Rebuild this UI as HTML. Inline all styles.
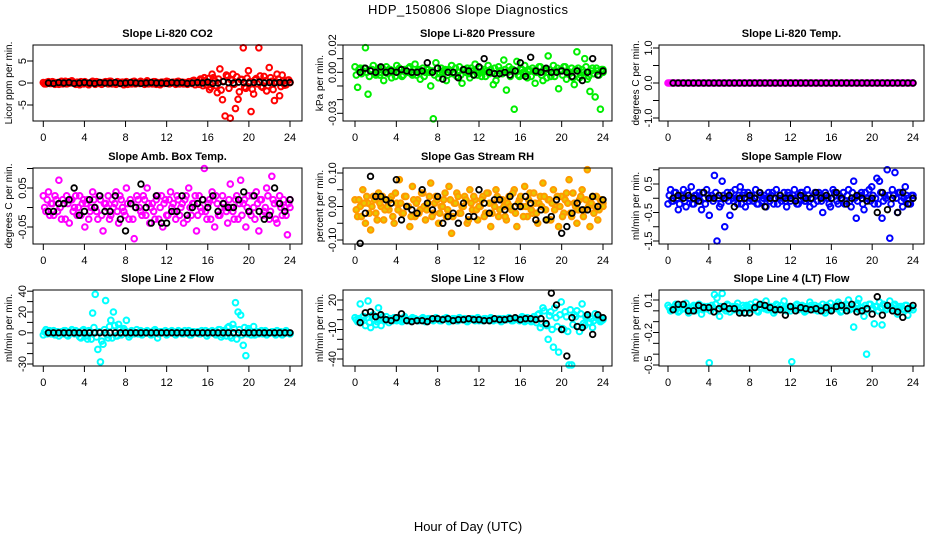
<!DOCTYPE html>
<html><head><meta charset="utf-8"><style>
body{margin:0;background:#fff;}
svg{display:block;font-family:"Liberation Sans",sans-serif;}
</style></head><body>
<svg id="chart" width="936" height="540" viewBox="0 0 936 540">
<text x="468" y="14" text-anchor="middle" font-size="13" textLength="200">HDP_150806  Slope Diagnostics</text>
<text x="468" y="531" text-anchor="middle" font-size="13">Hour of Day (UTC)</text>
</svg>
<script>
// ---- data ----
const xTicks=[0,4,8,12,16,20,24];
const xTickLabels=["0","4","8","12","16","20","24"];
const c1=[0.1,-0.2,0.3,-0.1,0.2,0.0,-0.3,0.4,0.1,-0.2,0.3,0.5,-0.1,0.2,-0.4,0.1,0.3,-0.2,0.0,0.4,-0.3,0.2,0.1,-0.1,0.3,-0.2,0.4,0.0,-0.3,0.2,0.1,-0.4,0.3,0.0,-0.2,0.4,0.1,-0.1,0.2,-0.3,0.5,0.0,-0.2,0.3,0.1,-0.4,0.2,0.0,0.3,-0.1,0.2,-0.3,0.4,0.1,-0.2,0.0,0.3,-0.1,0.6,0.2,-0.3,0.8,1.2,-0.5,-1.5,2.0,0.5,-2.2,3.2,-3.8,-7.5,1.5,-8.0,2.0,-5.8,-3.7,0.8,8.0,-1.2,2.8,-6.5,-2.5,1.0,8.0,-0.8,1.5,-1.8,3.5,0.4,-4.0,2.0,-2.9,1.8,-0.5,0.6,0.2];
const d1=[-0.2,0.2,-0.1,0.3,-0.3,0.1,0.2,-0.2,0.4,-0.1,0.0,0.2,-0.3,0.1,0.3,-0.2,0.1,-0.4,0.2,0.0,0.3,-0.1,-0.3,0.2,0.1,0.4,-0.2,0.0,0.3,-0.1,0.2,0.0,-0.3,0.1,0.3,-0.2,0.0,0.4,-0.1,0.2,-0.2,0.1,0.3,-0.3,0.0,0.2,-0.1,0.4,-0.2,0.1,0.0,0.3,-0.2,0.2,0.1,-0.3,0.2,0.5,-0.4,0.3,0.9,-0.6,0.2,1.0,-1.0,1.2,-0.6,0.9,-1.6,0.4,1.8,-1.2,0.6,-0.3,1.4,-2.0,0.8,-0.9,1.1,0.3,-1.4,0.7,-0.2,1.6,-1.0,0.5,-0.6,1.2,-1.5,0.3,0.9,-0.8,0.4,-0.4,0.7,0.1];
const b1=[0.0,-0.1,0.1,0.0,0.1,-0.1,0.0,0.1,0.0,-0.1,0.1,0.0,0.0,0.1,-0.1,0.0,0.1,0.0,-0.1,0.0,0.1,0.0,0.0,-0.1,0.1,0.0,0.1,-0.1,0.0,0.1,0.0,0.2,-0.1,0.0,0.3,0.1,0.0,0.2,0.1,0.0,0.1,0.2,0.0,0.1,0.0,0.1,0.0,0.1];
const c2=[0.004,-0.011,0.003,0.001,0.018,-0.016,0.002,0.005,-0.002,0.003,0.000,-0.006,0.004,0.002,-0.004,0.001,0.005,0.003,-0.003,0.002,0.000,0.004,-0.002,0.006,0.001,-0.005,0.003,0.000,0.002,-0.010,-0.034,0.007,-0.004,0.003,0.001,-0.006,0.002,0.005,0.000,-0.003,0.004,-0.008,0.002,0.003,-0.004,0.001,0.006,-0.002,0.003,0.000,-0.003,0.005,0.002,-0.009,-0.006,0.004,0.001,0.009,-0.013,0.004,0.002,-0.027,0.008,-0.003,0.002,0.005,-0.004,0.001,0.003,-0.008,0.000,0.004,-0.006,0.002,0.012,-0.003,0.005,0.001,-0.012,0.002,0.004,-0.005,0.000,0.003,-0.009,0.015,-0.004,0.002,0.010,-0.005,-0.014,0.003,-0.018,0.001,-0.027,0.002];
const d2=[-0.002,0.002,-0.001,0.003,0.000,-0.003,0.002,-0.001,0.001,-0.002,0.003,0.000,-0.001,0.002,0.001,-0.003,0.000,0.002,-0.002,0.001,0.003,-0.001,0.000,-0.002,0.002,0.001,-0.003,0.002,0.000,0.001,-0.002,0.003,-0.001,0.000,0.002,-0.002,0.001,-0.001,0.003,0.000,-0.002,0.002,0.000,-0.001,0.003,-0.002,0.001,0.000,-0.003,0.002,0.001,-0.001,0.000,0.003,-0.002,0.001,-0.001,0.002,0.000,-0.003,0.002,0.001,-0.002,0.003,0.000,-0.001,0.002,-0.003,0.001,0.000,0.004,-0.002,0.001,-0.004,0.002,0.000,-0.003,0.003,0.001,-0.002,0.004,-0.001,0.000,-0.004,0.002,0.003,-0.002,0.000,0.004,-0.003,0.001,-0.001,0.003,-0.002,0.002,0.000];
const b2=[0.000,0.003,0.001,0.000,0.004,0.000,0.001,0.000,0.002,0.001,0.000,0.000,0.001,0.007,0.000,0.003,-0.005,0.000,0.000,-0.004,0.002,0.001,-0.002,0.004,0.010,0.000,-0.001,-0.001,0.000,-0.002,0.001,0.007,-0.003,0.011,0.001,0.000,0.003,0.000,0.000,0.001,0.000,-0.003,0.001,-0.006,0.000,0.010,-0.002,0.001];
const c3=[0,0,0,0,0,0,0,0,0,0,0,0,0,0,0,0,0,0,0,0,0,0,0,0,0,0,0,0,0,0,0,0,0,0,0,0,0,0,0,0,0,0,0,0,0,0,0,0,0,0,0,0,0,0,0,0,0,0,0,0,0,0,0,0,0,0,0,0,0,0,0,0,0,0,0,0,0,0,0,0,0,0,0,0,0,0,0,0,0,0,0,0,0,0,0,0];
const d3=c3.slice();
const b3=[0,0,0,0,0,0,0,0,0,0,0,0,0,0,0,0,0,0,0,0,0,0,0,0,0,0,0,0,0,0,0,0,0,0,0,0,0,0,0,0,0,0,0,0,0,0,0,0];
const c4=[0.03,-0.01,0.04,0.01,-0.02,0.02,0.07,-0.03,0.01,0.03,-0.04,0.02,0.00,-0.02,0.03,0.01,-0.05,0.02,-0.01,0.04,0.00,-0.03,0.02,-0.06,0.01,0.03,-0.02,0.00,0.04,-0.04,0.02,-0.01,0.05,-0.03,0.01,-0.08,0.03,0.00,-0.02,0.02,0.05,-0.04,0.01,-0.03,0.03,0.00,-0.05,0.02,-0.02,0.04,0.01,-0.03,0.02,0.00,-0.04,0.03,0.05,-0.02,0.01,-0.06,0.03,-0.01,0.10,-0.03,0.02,0.04,-0.05,0.01,-0.02,0.03,0.00,-0.04,0.06,-0.01,0.02,-0.03,0.07,0.01,-0.05,0.03,-0.02,0.00,0.04,-0.06,0.02,-0.01,0.05,-0.03,0.08,0.01,-0.04,0.03,-0.02,0.00,-0.07,0.02];
const d4=[0.00,0.02,-0.02,0.01,0.03,-0.01,0.00,0.02,-0.03,0.01,0.02,-0.01,0.03,0.00,-0.02,0.02,0.01,-0.03,0.00,0.02,-0.01,0.03,-0.02,0.01,0.00,-0.03,0.02,0.01,-0.01,0.03,0.00,-0.02,0.01,0.02,-0.03,0.00,0.02,-0.01,0.03,-0.02,0.01,0.00,-0.01,0.02,-0.03,0.03,0.01,-0.02,0.02,0.00,-0.01,0.03,-0.02,0.01,0.02,-0.03,0.00,0.01,0.03,-0.02,0.00,0.02,-0.01,0.01,-0.03,0.02,0.03,-0.02,0.00,0.01,-0.01,0.02,0.00,-0.03,0.03,0.01,-0.02,0.02,0.00,-0.01,0.03,-0.03,0.01,0.02,-0.02,0.00,0.03,-0.01,0.02,-0.03,0.01,0.00,0.02,-0.02,0.01,0.00];
const b4=[-0.01,-0.01,0.01,0.01,0.02,0.05,-0.02,-0.01,0.02,0.00,0.03,-0.01,-0.01,0.03,-0.03,-0.06,0.01,0.00,0.06,0.00,-0.04,0.03,-0.04,-0.04,-0.01,-0.01,0.03,-0.02,0.00,0.01,0.02,0.00,0.03,-0.01,0.01,0.00,0.00,0.02,0.04,-0.01,0.03,-0.01,-0.03,-0.02,0.05,0.01,-0.01,0.02];
const c5=[0.02,-0.03,0.00,0.05,-0.05,0.01,-0.07,0.03,-0.02,0.04,0.00,-0.04,0.02,-0.01,0.03,-0.05,0.01,0.08,-0.02,0.03,0.00,-0.06,0.06,-0.03,0.02,-0.01,0.04,-0.04,0.01,0.07,-0.02,0.03,-0.05,0.00,0.02,-0.03,0.06,-0.08,0.01,0.04,-0.02,0.00,0.03,-0.05,0.05,-0.01,0.02,-0.04,0.00,0.03,-0.02,0.04,-0.06,0.01,0.05,-0.03,0.02,0.00,-0.04,0.03,-0.01,0.05,-0.06,0.02,0.00,0.06,-0.03,0.04,-0.02,0.01,-0.05,0.03,0.07,-0.01,0.02,-0.04,0.05,0.00,-0.06,0.03,-0.02,0.04,0.08,-0.03,0.01,-0.05,0.02,0.05,-0.01,0.11,-0.06,0.03,0.00,-0.04,0.02,0.01];
const d5=[-0.01,0.02,-0.03,0.01,0.03,-0.02,0.00,0.02,-0.04,0.01,0.03,-0.01,0.00,0.02,-0.03,0.04,-0.01,0.01,-0.02,0.03,0.00,-0.03,0.02,0.01,-0.02,0.04,0.00,-0.01,0.03,-0.03,0.01,0.02,-0.02,0.00,0.04,-0.01,0.02,-0.03,0.01,0.03,-0.02,0.00,0.02,-0.04,0.01,0.03,-0.01,0.00,0.02,-0.03,0.04,0.01,-0.02,0.00,0.03,-0.01,0.02,-0.03,0.01,0.00,0.04,-0.02,0.01,0.03,-0.03,0.00,0.02,-0.01,0.04,-0.02,0.01,0.00,0.03,-0.04,0.02,0.01,-0.01,0.03,0.00,-0.03,0.02,0.01,-0.02,0.04,0.00,-0.01,0.03,-0.03,0.02,0.00,0.01,-0.02,0.03,-0.01,0.02,0.00];
const b5=[-0.11,-0.02,0.09,0.03,0.03,0.02,0.01,0.08,-0.04,0.00,-0.01,-0.02,0.05,0.01,-0.01,0.03,-0.05,-0.03,-0.02,-0.05,0.01,-0.03,-0.03,0.05,0.01,-0.02,0.02,0.02,-0.01,0.03,0.00,0.00,0.03,0.01,-0.04,-0.01,-0.04,-0.03,0.02,-0.08,-0.06,-0.02,0.01,-0.01,-0.01,0.03,0.00,0.02];
const c6=[-0.2,0.3,-0.1,0.2,-0.4,0.1,0.3,-0.3,0.0,0.4,-0.2,0.1,0.2,-0.4,0.0,0.3,-0.6,0.1,0.8,-1.5,-0.3,0.6,-1.0,0.2,-0.6,0.0,0.3,-0.2,0.4,0.1,-0.3,0.2,0.0,-0.1,0.3,-0.2,0.1,0.0,-0.3,0.2,0.1,-0.2,0.3,0.0,-0.1,0.2,-0.3,0.1,0.0,0.3,-0.2,0.1,0.2,-0.1,0.3,-0.3,0.0,0.2,-0.1,0.1,-0.5,0.2,0.0,-0.3,0.3,0.1,-0.2,0.0,0.2,-0.1,0.3,-0.3,0.6,-0.7,0.1,0.2,-0.4,0.0,0.3,0.4,-0.2,0.7,0.6,-0.7,0.1,1.0,-1.4,0.3,0.9,-0.5,0.2,-0.3,0.4,0.0,-0.2,0.1];
const d6=[0.1,-0.1,0.2,0.0,-0.2,0.1,-0.1,0.2,0.0,-0.2,0.1,0.0,-0.1,0.2,-0.2,0.1,0.0,-0.1,0.2,0.0,-0.2,0.1,0.0,-0.1,0.2,-0.1,0.0,0.1,-0.2,0.2,0.0,-0.1,0.1,0.0,-0.2,0.2,-0.1,0.1,0.0,-0.1,0.2,0.0,-0.2,0.1,0.0,-0.1,0.2,-0.1,0.1,0.0,-0.2,0.2,0.0,-0.1,0.1,0.0,-0.2,0.1,0.2,-0.1,0.0,0.1,-0.2,0.0,0.2,-0.1,0.1,0.0,-0.2,0.1,-0.1,0.2,0.0,-0.1,0.1,-0.2,0.2,0.0,-0.1,0.1,0.0,-0.2,0.2,-0.1,0.0,0.1,-0.2,0.1,0.0,0.2,-0.1,0.0,0.1,-0.2,0.1,0.0];
const b6=[0.0,0.1,0.0,0.1,0.0,-0.1,0.2,0.0,0.0,0.1,0.0,0.1,-0.3,0.0,0.0,0.1,0.0,0.2,-0.3,0.0,0.0,0.1,0.0,0.0,-0.1,0.1,0.0,0.0,0.2,0.0,0.1,0.0,0.2,0.0,-0.2,0.0,0.1,0.0,-0.1,0.0,-0.5,0.2,-0.4,0.0,-0.5,0.2,-0.2,0.0];
const c7=[-2,3,1,-1,2,0,-3,1,2,-2,0,3,-1,1,-4,2,0,-6,1,19,37,-16,-28,-11,31,-5,12,20,-3,8,-2,4,12,-4,2,-1,3,0,-2,1,2,-1,0,3,-5,1,0,2,-1,1,0,-2,2,1,-1,0,2,-2,1,0,-1,2,0,-3,1,2,-1,0,3,-2,1,5,-3,8,29,20,17,-12,-22,4,-2,6,0,-1,2,1,-2,0,1,-1,2,0,-2,1,0,-1];
const d7=[1,-1,2,0,-2,1,0,-1,2,-3,1,0,2,-1,-5,3,-3,2,-6,5,-4,1,-8,3,-2,6,-5,7,-3,4,-1,2,0,-2,1,0,-1,2,-1,0,1,-2,2,0,-1,1,0,-2,1,2,-1,0,1,-1,2,0,-2,1,0,1,-1,0,2,-1,0,1,-2,3,-4,2,-3,6,-5,4,-6,3,-2,5,-1,2,0,-2,1,0,-1,2,-1,0,1,-2,0,1,-1,2,0,-1];
const b7=[0,0,0,0,0,0,0,0,0,0,0,0,0,0,0,0,0,0,0,0,0,0,0,0,0,0,0,0,0,0,0,0,0,0,0,0,0,0,0,0,0,0,0,0,0,0,0,0];
const c8=[2,-2,16,3,-6,19,-8,5,-5,12,-6,1,3,-3,0,2,-1,1,-2,3,0,-1,2,1,-1,0,2,-2,1,0,-1,2,0,-1,1,2,-2,0,1,-1,2,0,1,-2,0,1,-1,2,0,-1,1,0,2,-1,0,1,-2,1,0,2,-1,0,1,-1,3,-2,2,0,-1,1,5,-8,12,-5,-20,8,-28,2,-33,18,-10,3,-46,-46,5,9,-12,16,-6,3,-3,-8,6,2,-2,0];
const d8=[0,1,-1,3,2,-3,4,0,-2,1,3,-1,0,1,-1,0,2,-1,0,1,-1,0,1,0,-1,1,0,-1,1,0,0,1,-1,0,1,0,-1,1,0,-1,1,0,0,-1,1,0,1,-1,0,1,0,-1,1,0,0,1,-1,0,1,0,-1,1,0,0,2,-1,1,-2,3,-3,6,-4,9,-6,4,-10,12,-7,5,-9,8,-12,10,-5,3,-7,6,-4,2,-3,1,-1,2,0,-1,1];
const b8=[-3,7,8,3,5,0,-1,2,6,-1,-2,-1,-1,-2,1,1,0,1,-1,0,0,1,0,0,-1,-1,1,0,0,1,2,0,1,1,0,1,-4,27,15,-10,-37,2,-7,-8,5,-15,5,2];
const c9=[0.05,0.00,0.03,0.06,-0.01,0.04,0.02,0.07,-0.02,0.03,0.05,0.01,0.06,-0.03,0.04,0.02,-0.48,0.05,0.15,0.12,-0.05,0.16,0.02,0.06,-0.01,0.04,0.03,0.07,0.00,0.05,-0.02,0.04,0.06,0.02,0.08,-0.01,0.03,0.05,0.09,0.01,0.04,-0.02,0.06,0.03,0.05,0.09,0.00,0.04,-0.47,0.03,0.06,0.02,0.05,-0.01,0.04,0.08,0.02,0.05,0.00,0.03,0.06,-0.02,0.04,0.07,0.02,0.05,0.08,-0.01,0.03,0.06,0.10,0.02,-0.15,0.05,0.11,0.03,-0.05,-0.40,0.06,0.02,-0.12,0.04,0.08,-0.13,0.05,0.02,0.09,0.03,0.06,-0.03,0.04,0.02,0.05,-0.04,0.03,0.01];
const d9=[0.03,0.01,0.04,0.02,0.00,0.05,0.02,0.03,0.01,0.04,0.00,0.03,0.05,0.01,0.02,0.04,0.00,0.03,0.06,0.01,0.04,0.02,0.00,0.05,0.03,0.01,0.04,0.02,0.00,0.03,0.05,0.01,0.02,0.04,0.00,0.03,0.06,0.02,0.01,0.04,0.03,0.00,0.05,0.02,0.01,0.04,0.03,0.00,0.02,0.05,0.01,0.03,0.04,0.00,0.02,0.05,0.01,0.03,0.04,0.02,0.00,0.05,0.03,0.01,0.04,0.02,0.06,0.00,0.03,0.05,0.01,0.04,0.02,0.07,0.00,0.03,0.05,0.01,0.06,0.02,0.04,0.00,0.03,0.06,0.01,0.04,0.02,0.05,0.00,0.03,0.04,0.01,0.05,0.02,0.03,0.01];
const b9=[0.01,0.06,0.06,0.00,0.00,0.05,0.03,0.03,-0.01,0.02,0.04,0.02,0.02,-0.02,-0.02,-0.02,0.03,0.06,0.05,0.03,0.01,0.01,-0.04,0.04,0.00,0.03,0.02,0.01,0.02,0.00,0.03,0.00,0.04,0.05,0.00,0.06,-0.01,0.00,0.02,-0.03,0.13,-0.04,0.05,0.00,-0.01,-0.06,0.02,0.05];

// ---- layout ----
const NS="http://www.w3.org/2000/svg";
const svg=document.getElementById('chart');
const cols=[{l:33,r:302,x0:43.3,x24:290,lab:9,tl:22},{l:343,r:612,x0:355,x24:603,lab:320,tl:332},{l:659,r:924,x0:668,x24:913,lab:636,tl:648}];
const rows=[{t:45,b:121,title:37},{t:168,b:244,title:160},{t:290,b:366,title:282}];
const panels=[
 {title:"Slope Li-820 CO2",ylab:"Licor ppm per min.",c:c1,d:d1,b:b1,col:"#ff0000",fill:"none",ref:[5,61,-5,105],ticks:[5,0,-5],tlab:["5","0","-5"]},
 {title:"Slope Li-820 Pressure",ylab:"kPa per min.",c:c2,d:d2,b:b2,col:"#00ee00",fill:"none",ref:[0.02,45,-0.03,113.3],ticks:[0.02,0.01,0,-0.01,-0.02,-0.03],tlab:["0.02","","0.00","","","-0.03"]},
 {title:"Slope Li-820 Temp.",ylab:"degrees C per min.",c:c3,d:d3,b:b3,col:"#ff00ff",fill:"none",ref:[1,48,-1,118],ticks:[1,0.5,0,-0.5,-1],tlab:["1.0","","0.0","","-1.0"]},
 {title:"Slope Amb. Box Temp.",ylab:"degrees C per min.",c:c4,d:d4,b:b4,col:"#ff00ff",fill:"none",ref:[0.05,188,-0.05,227],ticks:[0.1,0.05,0,-0.05],tlab:["","0.05","","-0.05"]},
 {title:"Slope Gas Stream RH",ylab:"percent per min.",c:c5,d:d5,b:b5,col:"#ff9a00",fill:"#e8c800",ref:[0.1,173,-0.1,240],ticks:[0.1,0.05,0,-0.05,-0.1],tlab:["0.10","","0.00","","-0.10"]},
 {title:"Slope Sample Flow",ylab:"ml/min per min.",c:c6,d:d6,b:b6,col:"#0000ff",fill:"none",ref:[0.5,184,-1.5,241],ticks:[1,0.5,0,-0.5,-1,-1.5],tlab:["","0.5","","-0.5","","-1.5"]},
 {title:"Slope Line 2 Flow",ylab:"ml/min per min.",c:c7,d:d7,b:b7,col:"#00ffff",fill:"none",ref:[20,312,-30,364],ticks:[40,30,20,10,0,-10,-20,-30],tlab:["40","","20","","0","","","-30"]},
 {title:"Slope Line 3 Flow",ylab:"ml/min per min.",c:c8,d:d8,b:b8,col:"#00ffff",fill:"none",ref:[20,300,-40,359],ticks:[20,10,0,-10,-20,-30,-40],tlab:["20","","","-10","","","-40"]},
 {title:"Slope Line 4 (LT) Flow",ylab:"ml/min per min.",c:c9,d:d9,b:b9,col:"#00ffff",fill:"none",ref:[0.1,300,-0.5,365],ticks:[0.1,0,-0.1,-0.2,-0.3,-0.4,-0.5],tlab:["0.1","","","-0.2","","","-0.5"]}
];
function mk(tag,attrs,parent){const e=document.createElementNS(NS,tag);for(const k in attrs)e.setAttribute(k,attrs[k]);(parent||svg).appendChild(e);return e;}
panels.forEach((p,i)=>{
 const C=cols[i%3],R=rows[Math.floor(i/3)];
 const g=mk('g',{});
 
 
 const xs=h=>C.x0+(C.x24-C.x0)*h/24;
 const ys=v=>p.ref[1]+(v-p.ref[0])*(p.ref[3]-p.ref[1])/(p.ref[2]-p.ref[0]);
 const t=mk('text',{x:(C.l+C.r)/2,y:R.title,'text-anchor':'middle','font-size':11,'font-weight':'bold'},g);
 t.textContent=p.title;
 
 
 const yl=mk('text',{x:0,y:0,'text-anchor':'middle','font-size':10,transform:`translate(${C.lab+3},${(R.t+R.b)/2}) rotate(-90)`},g);
 yl.textContent=p.ylab;
 
 
 // colored points (two sample sets, offset by half a step)
 [p.c,p.d].forEach((arr,s)=>{
  const n=arr.length;
  arr.forEach((v,k)=>{
   const h=Math.min(24,k*24/(n-1)+s*0.125);
   const pt=mk('circle',{cx:xs(h),cy:ys(v),r:2.8,fill:p.fill,stroke:p.col,'stroke-width':2},g);
   
   
  });
 });
 const m=p.b.length;
 p.b.forEach((v,k)=>{
  const h=0.5+k*23.5/(m-1);
  const pt=mk('circle',{cx:xs(h),cy:ys(v),r:2.8,fill:'none',stroke:'#000','stroke-width':1.8},g);
  
  
 });
 const box=mk('rect',{x:C.l,y:R.t,width:C.r-C.l,height:R.b-R.t,fill:'none',stroke:'#000','stroke-width':1},g);
 
 
 mk('line',{x1:xs(0),x2:xs(24),y1:R.b,y2:R.b,stroke:'#000'},g);
 xTicks.forEach((h,k)=>{
  mk('line',{x1:xs(h),x2:xs(h),y1:R.b,y2:R.b+6,stroke:'#000'},g);
  const tx=mk('text',{x:xs(h),y:R.b+20,'text-anchor':'middle','font-size':11},g);
  tx.textContent=xTickLabels[k];
  
  
 });
 p.ticks.forEach((v,k)=>{
  mk('line',{x1:C.l-6,x2:C.l,y1:ys(v),y2:ys(v),stroke:'#000'},g);
  if(p.tlab[k]){
   const ty=mk('text',{x:0,y:0,'text-anchor':'middle','font-size':11,transform:`translate(${C.tl+4},${ys(v)}) rotate(-90)`},g);
   ty.textContent=p.tlab[k];
   
   
  }
 });
});
</script>
</body></html>
